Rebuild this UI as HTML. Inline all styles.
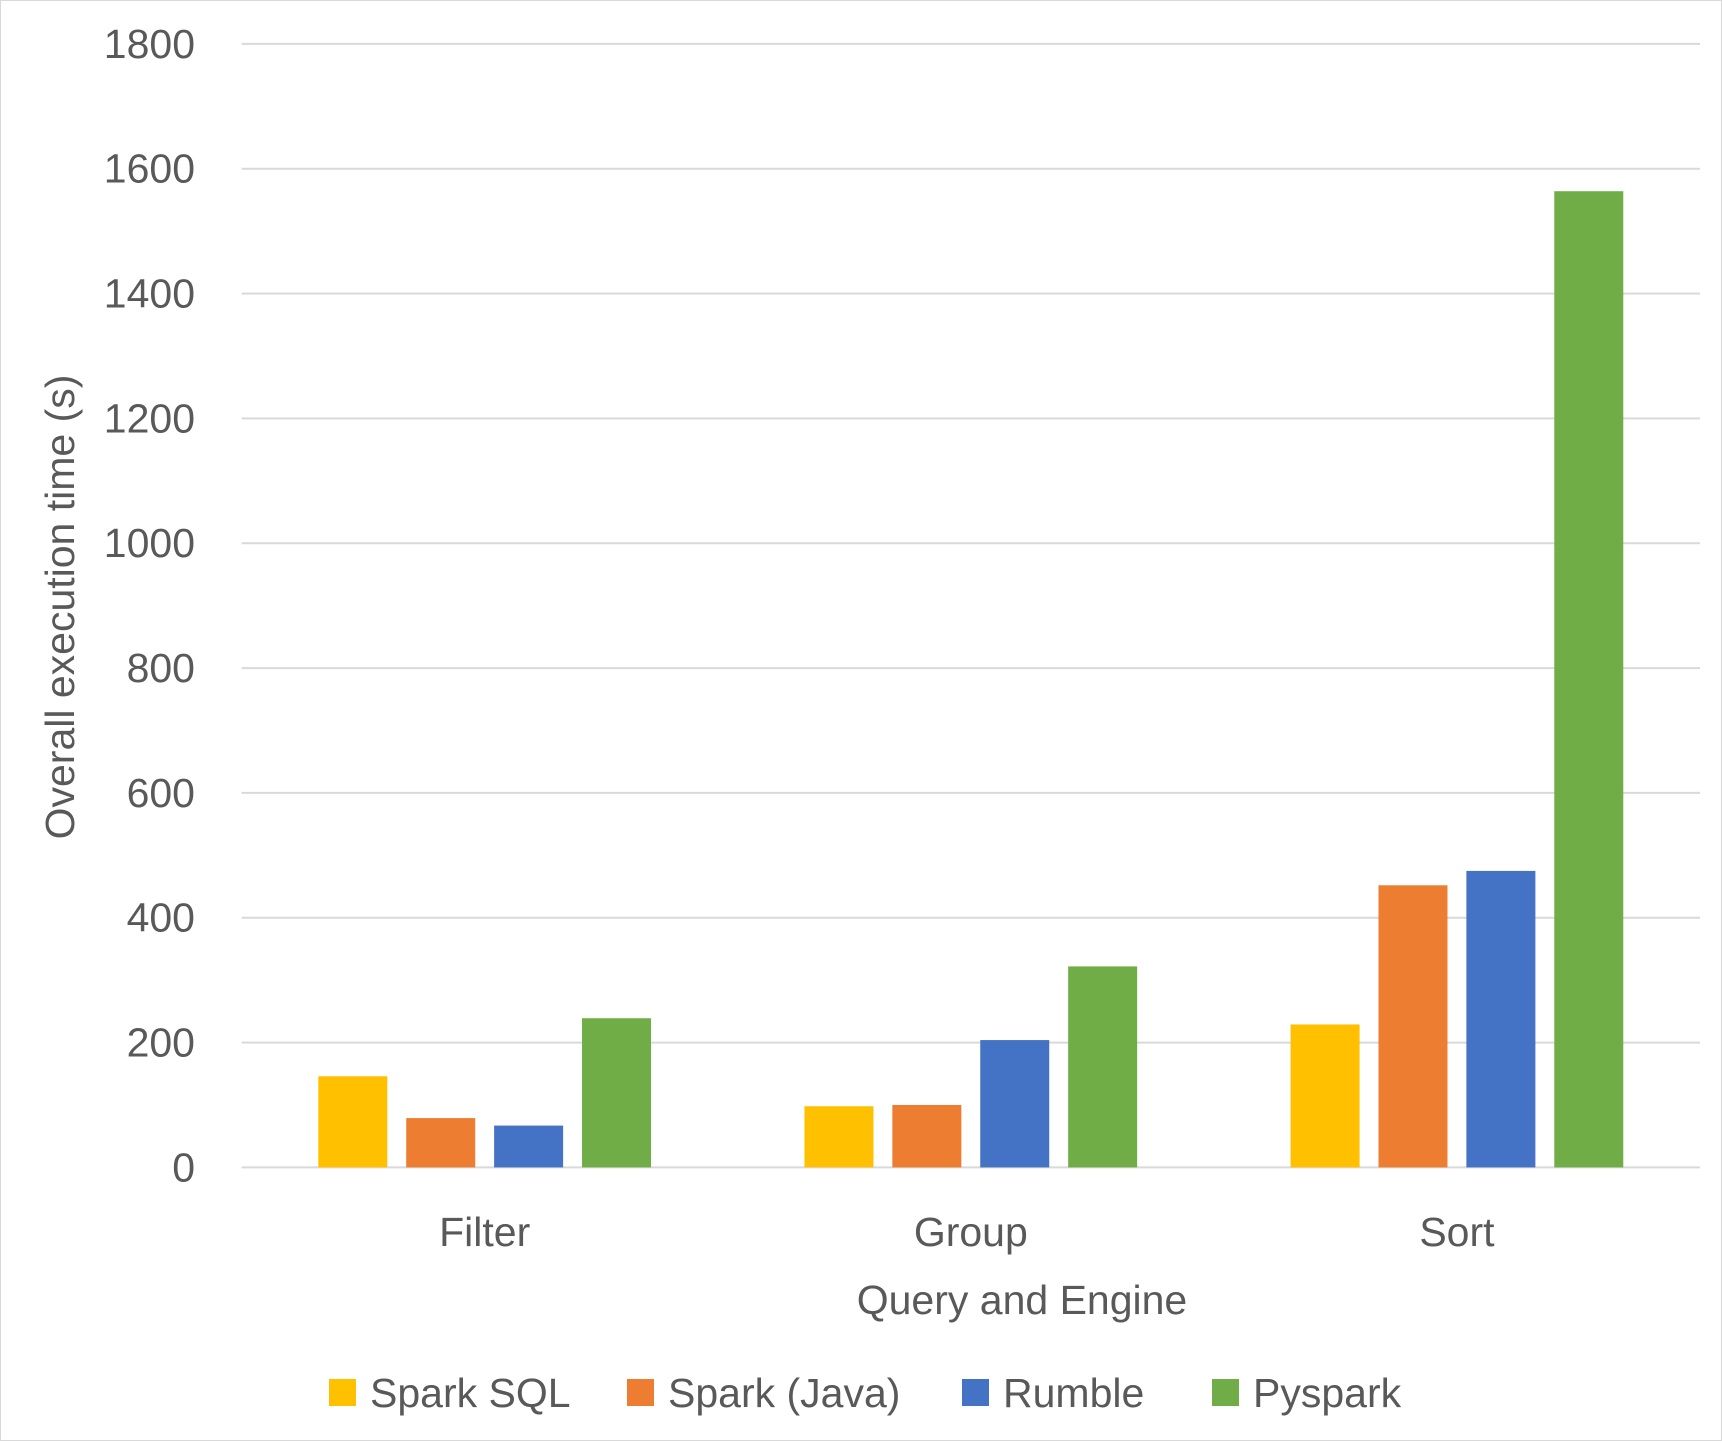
<!DOCTYPE html>
<html><head><meta charset="utf-8"><style>
body{margin:0;background:#fff}
svg{display:block;font-family:"Liberation Sans",sans-serif}
</style></head><body>
<svg id="chart" width="1722" height="1441">
<rect x="0.5" y="0.5" width="1721" height="1440" fill="#fff" stroke="#d9d9d9"/>
<g id="grid"></g><g id="bars"></g><g id="labels"></g>
<text x="1022" y="1314" text-anchor="middle" font-size="41" fill="#595959">Query and Engine</text>
<text transform="translate(74,607) rotate(-90)" text-anchor="middle" font-size="41" fill="#595959">Overall execution time (s)</text>
<g id="legend"></g>
</svg>
<script>
const categories=["Filter","Group","Sort"];
const seriesNames=["Spark SQL","Spark (Java)","Rumble","Pyspark"];
const colors=["#ffc000","#ed7d31","#4472c4","#70ad47"];
const sparkSql=[146,98,229];
const sparkJava=[79,100,452];
const rumble=[67,204,475];
const pyspark=[239,322,1564];
const yTicks=[0,200,400,600,800,1000,1200,1400,1600,1800];
const series=[sparkSql,sparkJava,rumble,pyspark];
const NS="http://www.w3.org/2000/svg";
const L=241.6,R=1700,Y0=1167.4,Y1=43.9,YMAX=1800;
const y=v=>Y0-(v/YMAX)*(Y0-Y1);
const cw=(R-L)/categories.length;
const xc=i=>L+cw*(i+0.5);
const bw=69,step=87.9;
function mk(t,a,p){const e=document.createElementNS(NS,t);for(const k in a)e.setAttribute(k,a[k]);p.appendChild(e);return e;}
const grid=document.getElementById('grid'),labels=document.getElementById('labels'),bars=document.getElementById('bars'),legend=document.getElementById('legend');
yTicks.forEach(t=>{
 const l=mk('line',{x1:L,x2:R,y1:y(t),y2:y(t),stroke:'#d9d9d9','stroke-width':2},grid);
 
 
 const tx=mk('text',{x:195,y:y(t)+14,'text-anchor':'end','font-size':41,fill:'#595959'},labels);
 tx.textContent=t;
 
 
});
categories.forEach((c,i)=>{
 series.forEach((s,j)=>{
  const x=xc(i)+(j-1.5)*step-bw/2;
  const r=mk('rect',{x:x,y:y(s[i]),width:bw,height:Y0-y(s[i]),fill:colors[j]},bars);
  
  
 });
 const tx=mk('text',{x:xc(i),y:1246,'text-anchor':'middle','font-size':41,fill:'#595959'},labels);
 tx.textContent=c;
 
 
});
const lx=[329,627,962,1212];
seriesNames.forEach((n,j)=>{
 const r=mk('rect',{x:lx[j],y:1379,width:27,height:27,fill:colors[j]},legend);
 
 
 const t=mk('text',{x:lx[j]+41,y:1407,'font-size':41,fill:'#595959'},legend);
 t.textContent=n;
 
 
});
</script>
</body></html>
